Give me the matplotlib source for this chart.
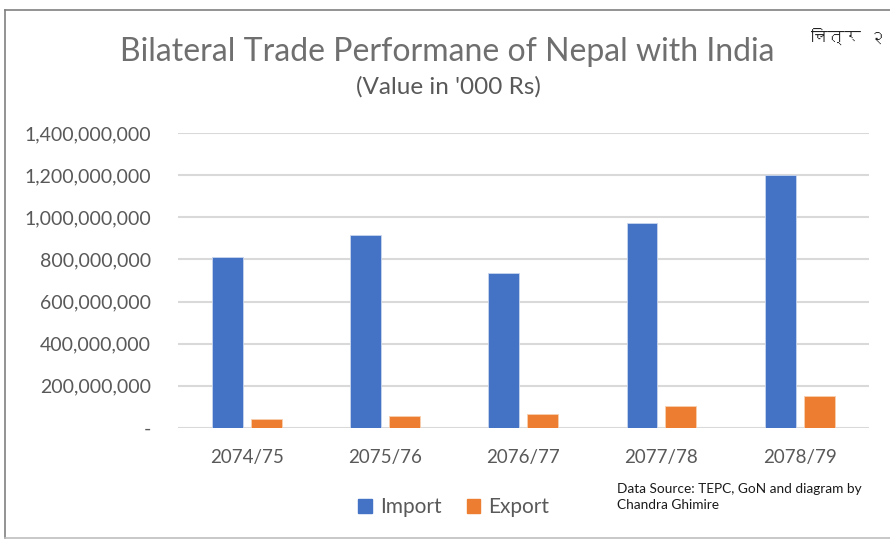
import matplotlib
matplotlib.use("Agg")
import matplotlib.pyplot as plt
from matplotlib.lines import Line2D
from matplotlib.patches import Patch
from matplotlib import font_manager
from matplotlib.ft2font import FT2Font
import numpy as np

years = ["2074/75", "2075/76", "2076/77", "2077/78", "2078/79"]
imports = [810e6, 916e6, 734e6, 971e6, 1199e6]
exports = [43e6, 58e6, 66e6, 103e6, 152e6]
yticks = [0, 200e6, 400e6, 600e6, 800e6, 1000e6, 1200e6, 1400e6]

blue = "#4472C4"
orange = "#ED7D31"
grey_text = "#595959"

plt.rcParams['font.family'] = ['Lato', 'DejaVu Sans']


def find_devanagari_font():
    # look for any installed font that has Devanagari glyphs
    for f in font_manager.fontManager.ttflist:
        try:
            cmap = FT2Font(f.fname).get_charmap()
        except Exception:
            continue
        if 0x091A in cmap and 0x0968 in cmap:
            return f.name
    return None


deva = find_devanagari_font()

fig = plt.figure(figsize=(8.9, 5.4), dpi=100)
ax = fig.add_axes([0.2, 0.2074, 0.776, 0.5463])

x = np.arange(len(years))
w = 0.224
off = 0.141
ax.bar(x - off, imports, width=w, color=blue, edgecolor="#c9d6ee", linewidth=0.6, zorder=3)
ax.bar(x + off, exports, width=w, color=orange, edgecolor="#f8cfae", linewidth=0.6, zorder=3)

ax.set_xlim(-0.5, len(years) - 0.5)
ax.set_ylim(0, 1400e6)
ax.set_yticks(yticks)
ax.set_yticklabels(["-" if v == 0 else f"{int(v):,}" for v in yticks])
ax.set_xticks(x)
ax.set_xticklabels(years)
ax.tick_params(axis="y", length=0, pad=19.5, labelsize=14, labelcolor=grey_text)
ax.tick_params(axis="x", length=0, pad=15, labelsize=13.5, labelcolor=grey_text)
ax.yaxis.grid(True, color="#d9d9d9", linewidth=1.5, zorder=0)
for s in ax.spines.values():
    s.set_visible(False)

fig.text(0.503, 0.904, "Bilateral Trade Performane of Nepal with India",
         ha="center", va="center", fontsize=23, color="#6f6f6f")
fig.text(0.504, 0.839, "(Value in '000 Rs)", ha="center", va="center",
         fontsize=17.5, color=grey_text)

if deva:
    fig.text(0.953, 0.933, "चित्र २", ha="center", va="center", fontsize=12,
             family=[deva, 'DejaVu Sans'], weight="bold", color="#222222")

handles = [Patch(color=blue), Patch(color=orange)]
fig.legend(handles, ["Import", "Export"], loc="center", bbox_to_anchor=(0.51, 0.061),
           ncol=2, frameon=False, fontsize=15, labelcolor=grey_text,
           handlelength=0.65, handleheight=0.65, handletextpad=0.4, columnspacing=1.2)

fig.text(0.693, 0.08, "Data Source: TEPC, GoN and diagram by\nChandra Ghimire",
         ha="left", va="center", fontsize=9.8, color="#1a1a1a", linespacing=1.45)

# outer frame (left, top, bottom)
fc = "#808080"
fig.add_artist(Line2D([0.006, 0.006], [0.004, 0.981], color=fc, lw=1.2, transform=fig.transFigure))
fig.add_artist(Line2D([0.006, 1.0], [0.981, 0.981], color=fc, lw=1.2, transform=fig.transFigure))
fig.add_artist(Line2D([0.006, 1.0], [0.004, 0.004], color="#bfbfbf", lw=1.2, transform=fig.transFigure))

fig.savefig("out.png", dpi=100)
